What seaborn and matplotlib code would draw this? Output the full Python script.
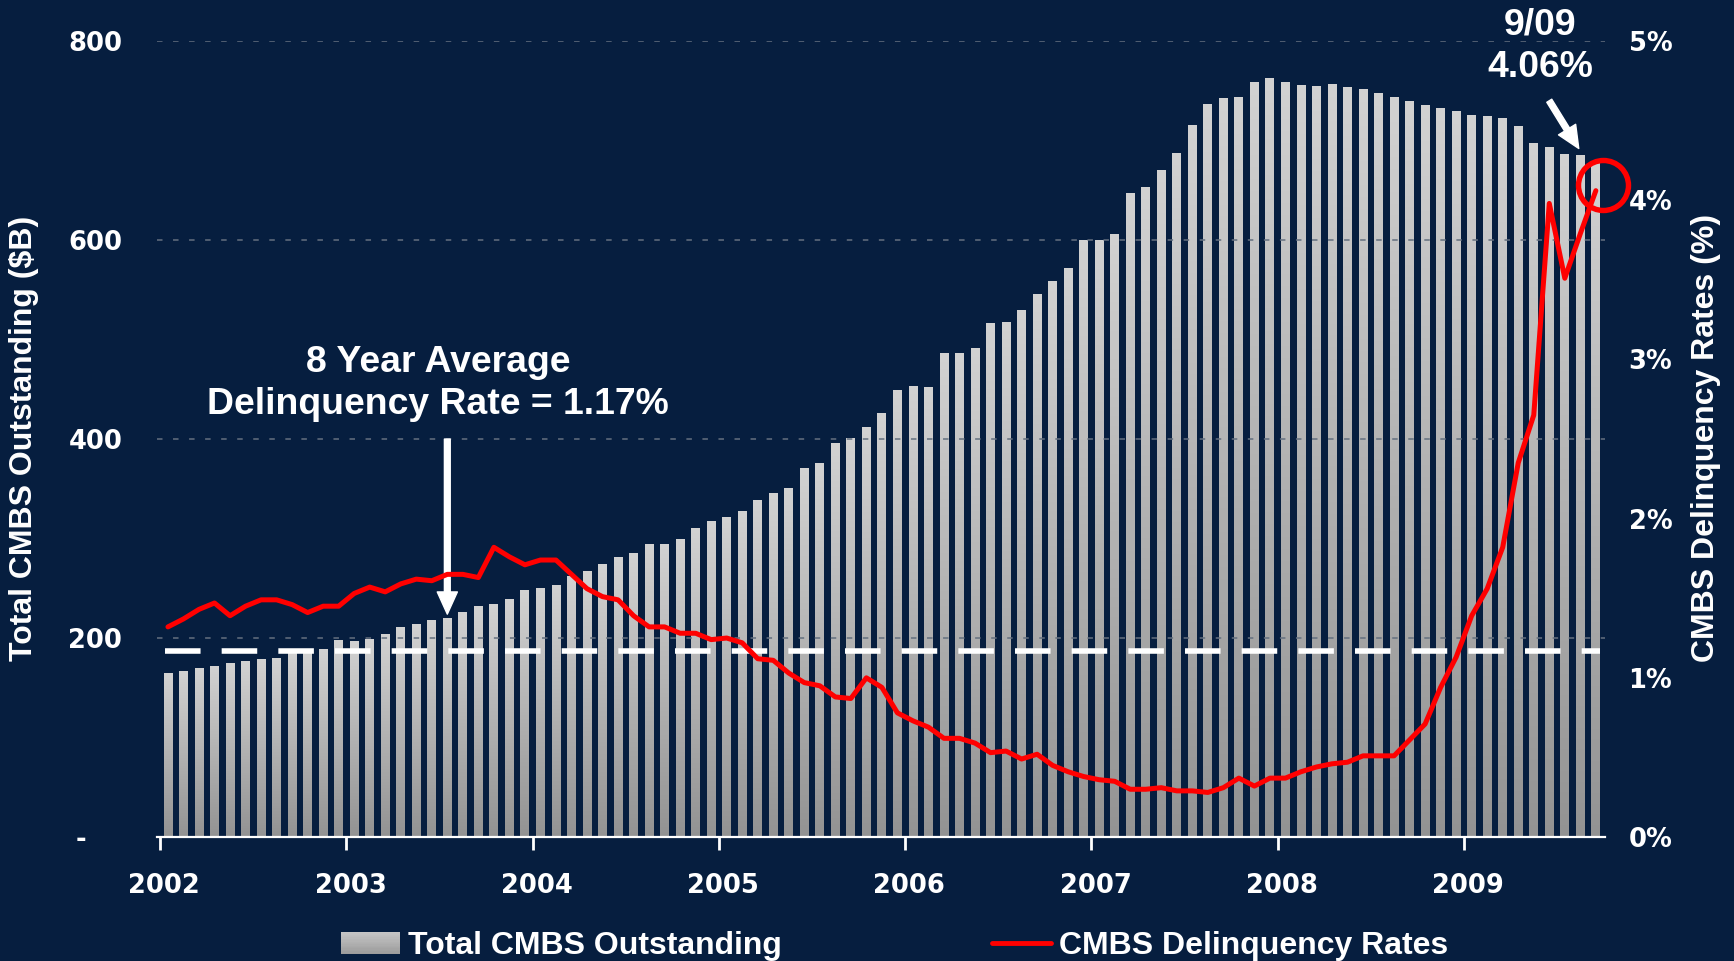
import numpy as np
import pandas as pd
import matplotlib
matplotlib.use("Agg")
import matplotlib.pyplot as plt
import matplotlib.transforms as mtrans
from matplotlib.colors import LinearSegmentedColormap
from matplotlib.patches import Patch, Rectangle
from matplotlib.lines import Line2D
from matplotlib.legend_handler import HandlerBase
import seaborn as sns

# ---------------- data ----------------
months = list(pd.date_range("2002-01-01", "2009-09-01", freq="MS").strftime("%Y-%m"))
years = ["2002", "2003", "2004", "2005", "2006", "2007", "2008", "2009"]

outstanding = [164, 166, 169, 171, 174, 176, 178, 179, 184, 186,
               188, 197, 196, 198, 204, 211, 214, 218, 220, 226,
               232, 234, 239, 248, 250, 253, 262, 267, 274, 281,
               285, 294, 294, 299, 310, 317, 321, 327, 338, 345,
               350, 370, 375, 395, 401, 412, 426, 449, 453, 452,
               486, 486, 491, 516, 517, 529, 545, 558, 571, 600,
               600, 606, 647, 653, 670, 687, 715, 736, 742, 743,
               758, 762, 758, 755, 754, 756, 753, 751, 747, 743,
               739, 735, 732, 729, 725, 724, 722, 714, 697, 693,
               686, 685, 679]

rate = [1.32, 1.37, 1.43, 1.47, 1.39, 1.45, 1.49, 1.49, 1.46, 1.41,
        1.45, 1.45, 1.53, 1.57, 1.54, 1.59, 1.62, 1.61, 1.65, 1.65,
        1.63, 1.82, 1.76, 1.71, 1.74, 1.74, 1.65, 1.56, 1.51, 1.49,
        1.39, 1.32, 1.32, 1.28, 1.28, 1.24, 1.25, 1.22, 1.12, 1.11,
        1.03, 0.97, 0.95, 0.88, 0.87, 1.00, 0.94, 0.78, 0.73, 0.69,
        0.62, 0.62, 0.59, 0.53, 0.54, 0.49, 0.52, 0.45, 0.41, 0.38,
        0.36, 0.35, 0.30, 0.30, 0.31, 0.29, 0.29, 0.28, 0.31, 0.37,
        0.32, 0.37, 0.37, 0.41, 0.44, 0.46, 0.47, 0.51, 0.51, 0.51,
        0.61, 0.71, 0.94, 1.13, 1.39, 1.56, 1.82, 2.35, 2.65, 3.98,
        3.51, 3.79, 4.06]

avg_rate = 1.17
left_ticks = [0, 200, 400, 600, 800]
left_labels = ["-    ", "200", "400", "600", "800"]
right_ticks = [0, 1, 2, 3, 4, 5]
right_labels = ["0%", "1%", "2%", "3%", "4%", "5%"]

# ---------------- style ----------------
BG = "#061e3f"
sns.set_style("dark", rc={"axes.facecolor": BG, "figure.facecolor": BG})
plt.rcParams["font.family"] = ["Liberation Sans", "DejaVu Sans"]

fig = plt.figure(figsize=(17.34, 9.61), dpi=100)
ax = fig.add_axes([0.0905, 0.129, 0.8351, 0.8283])
ax.set_facecolor(BG)

df = pd.DataFrame({"month": months, "outstanding": outstanding, "rate": rate})
sns.barplot(data=df, x="month", y="outstanding", color="#bbbbbb",
            width=0.57, saturation=1, ax=ax, zorder=2)

# gradient fill per bar
cmap = LinearSegmentedColormap.from_list("g", ["#939393", "#d2d2d2"])
grad = np.linspace(0, 1, 256).reshape(-1, 1)
for p in list(ax.patches):
    x0, w, h = p.get_x(), p.get_width(), p.get_height()
    ax.imshow(grad, extent=[x0, x0 + w, 0, h], origin="lower", cmap=cmap,
              aspect="auto", zorder=2, interpolation="bilinear")
    p.set_visible(False)

XL = (-0.71, 92.59)
ax.set_xlim(*XL)
ax.set_ylim(0, 800)
ax.grid(False)

for v in left_ticks[1:]:
    ax.axhline(v, color="#64707f", lw=1.1, dashes=(3.6, 6.9), zorder=5)

ax.set_xticks([12 * k - 0.5 for k in range(len(years))])
ax.set_xticklabels(years)
ax.tick_params(axis="x", bottom=True, colors="white", length=9, width=2,
               pad=17, direction="out")
ax.set_yticks(left_ticks)
ax.set_yticklabels(left_labels)
ax.tick_params(axis="y", left=False, length=0, pad=25, colors="white")
xshift = mtrans.ScaledTranslation(4 / 100, 0, fig.dpi_scale_trans)
for lab in ax.get_xticklabels():
    lab.set_transform(lab.get_transform() + xshift)
for lab in ax.get_xticklabels() + ax.get_yticklabels():
    lab.set_fontfamily("DejaVu Sans")
    lab.set_fontweight("bold")
    lab.set_fontsize(18.5)
ax.set_xlabel("")
ax.set_ylabel("")
for s in ["left", "right", "top"]:
    ax.spines[s].set_visible(False)
ax.spines["bottom"].set_color("white")
ax.spines["bottom"].set_linewidth(1.6)

# ---------------- right axis: delinquency ----------------
ax2 = ax.twinx()
sns.lineplot(x=np.arange(len(rate)), y=rate, ax=ax2, color="#ff0000",
             lw=3.6, zorder=6)
ax2.set_xlim(*XL)
ax2.set_ylim(0, 5)
ax2.grid(False)
ax2.hlines(avg_rate, -0.2, 92.3, colors="white", lw=4.0,
           linestyles=(0, (6.4, 3.8)), zorder=4)
ax2.set_yticks(right_ticks)
ax2.set_yticklabels(right_labels)
ax2.tick_params(axis="y", right=False, length=0, pad=17, colors="white")
for lab in ax2.get_yticklabels():
    lab.set_fontfamily("DejaVu Sans")
    lab.set_fontweight("bold")
    lab.set_fontsize(18.5)
ax2.set_ylabel("")
for s in ax2.spines.values():
    s.set_visible(False)

# highlight circle on the last point
last_i = len(rate) - 1
circ_tr = mtrans.offset_copy(ax2.transData, fig=fig, x=5, y=4, units="points")
ax2.plot([last_i], [rate[-1]], marker="o", ms=36, mfc="none", mec="#ff0000",
         mew=3.9, transform=circ_tr, clip_on=False, zorder=8)

# ---------------- annotations ----------------
arrow_kw = dict(facecolor="white", edgecolor="white", width=4.2,
                headwidth=14.5, headlength=16, shrink=0)
ax.annotate("", xy=(18, outstanding[18] + 4), xytext=(18, 400),
            arrowprops=arrow_kw, zorder=9)
ax.text(17.4, 456, "8 Year Average\nDelinquency Rate = 1.17%", ha="center",
        va="center", color="white", fontsize=26.9, fontweight="bold",
        linespacing=1.27, zorder=9)

ax.annotate("", xy=(90.9, 692), xytext=(89.0, 740), arrowprops=arrow_kw,
            zorder=9, annotation_clip=False)
ax.text(88.4, 795, "9/09\n4.06%", ha="center", va="center", color="white",
        fontsize=26.9, fontweight="bold", linespacing=1.27, zorder=9,
        clip_on=False)

# axis titles
fig.text(24 / 1734, 0.544, "Total CMBS Outstanding ($B)", rotation=90,
         ha="center", va="center", color="white", fontsize=23,
         fontweight="bold")
fig.text(1706 / 1734, 0.5445, "CMBS Delinquency Rates (%)", rotation=90,
         ha="center", va="center", color="white", fontsize=23,
         fontweight="bold")


# legend with gradient swatch
class GradHandler(HandlerBase):
    def create_artists(self, legend, orig_handle, xdescent, ydescent,
                       width, height, fontsize, trans):
        n = 16
        sw = LinearSegmentedColormap.from_list("s", ["#9c9c9c", "#c6c6c6"])
        arts = []
        for i in range(n):
            r = Rectangle((-xdescent, -ydescent + height * i / n), width,
                          height / n * 1.05, facecolor=sw(i / (n - 1)),
                          edgecolor="none", transform=trans)
            arts.append(r)
        return arts


bar_handle = Patch(facecolor="#b4b4b4", edgecolor="none",
                   label="Total CMBS Outstanding")
line_handle = Line2D([], [], color="#ff0000", lw=3.5,
                     label="CMBS Delinquency Rates")
fig.legend(handles=[bar_handle, line_handle], loc="center",
           bbox_to_anchor=(0.5159, 0.0155), ncol=2, frameon=False,
           prop={"size": 23, "weight": "bold"}, labelcolor="white",
           handlelength=1.85, handletextpad=0.25, columnspacing=6.57,
           handleheight=0.69, handler_map={bar_handle: GradHandler()})

fig.savefig("out.png", dpi=100, facecolor=BG)
